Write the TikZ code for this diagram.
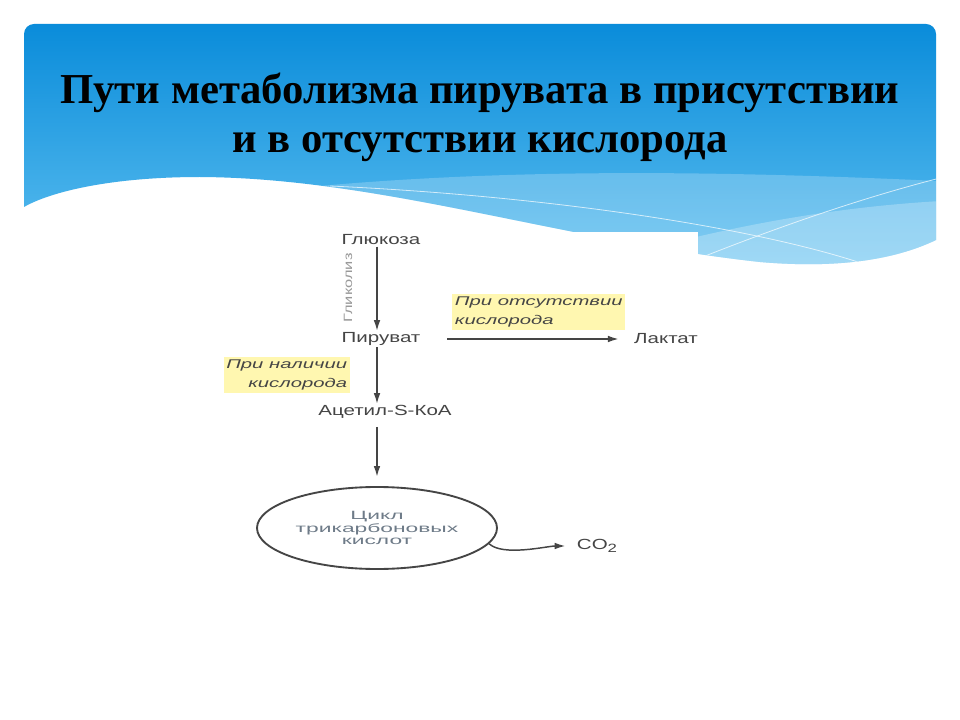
\documentclass[tikz,border=0pt]{standalone}
\usepackage{fontspec}
\setmainfont{Liberation Serif}
\setsansfont{Liberation Sans}
\usepackage{graphicx}
\usetikzlibrary{arrows.meta,shapes.geometric}

\definecolor{hdrdark}{HTML}{0A8CDA}
\definecolor{hdrlight}{HTML}{5DBFF0}
\definecolor{inkgray}{HTML}{454545}
\definecolor{cyclegray}{HTML}{6E7B88}
\definecolor{markyellow}{HTML}{FFF7B0}

\def\wide#1#2{\scalebox{#1}[1]{#2}}
\def\panelpath{(24,207) -- (24,34) arc[start angle=180,end angle=90,radius=7.5pt] -- (926,24) arc[start angle=90,end angle=0,radius=7.5pt] -- (936,240) .. controls (890,262) and (830,268) .. (760,262) .. controls (560,240) and (380,178) .. (200,177) .. controls (110,177) and (50,192) .. (24,207) -- cycle}

\tikzset{
	headline/.style={anchor=base, font=\bfseries\fontsize{32}{38}\selectfont},
	subst/.style={font=\sffamily\fontsize{11}{13}\selectfont, text=inkgray, inner sep=1pt},
	cond/.style={font=\sffamily\itshape\fontsize{9.5}{14}\selectfont, text=inkgray, fill=markyellow, inner sep=2pt},
	react/.style={draw=inkgray, line width=1.1pt, -{Latex[length=8pt,width=5pt]}},
}

\begin{document}
\begin{tikzpicture}[x=0.75pt,y=-0.75pt]
	%%%%% START %%%%%
	\useasboundingbox (0,0) rectangle (960,720);
	\fill[white] (0,0) rectangle (960,720);
	
	\shade[top color=hdrdark, bottom color=hdrlight] \panelpath;
	\begin{scope}
		\clip \panelpath;
		\fill[white, opacity=0.22] (260,192) .. controls (500,165) and (750,172) .. (960,182) -- (960,300) -- (260,300) -- cycle;
		\fill[white, opacity=0.25] (600,262) .. controls (740,222) and (850,205) .. (960,200) -- (960,300) -- cycle;
		\draw[white, opacity=0.7, line width=0.6pt] (330,186) .. controls (550,196) and (760,228) .. (870,266);
		\draw[white, opacity=0.7, line width=0.6pt] (690,262) .. controls (790,222) and (870,196) .. (940,178);
	\end{scope}
	
	\node[headline] (ttl1) at (480,104) {Пути метаболизма пирувата в присутствии};
	\node[headline] (ttl2) at (480,153) {и в отсутствии кислорода};
	
	% figure
	\fill[white] (300,232) rectangle (698,610);
	
	\node[subst] (gluc) at (381,240) {\wide{1.4}{Глюкоза}};
	\node[subst] (pyr) at (381,339) {\wide{1.4}{Пируват}};
	\node[subst] (acoa) at (385,412) {\wide{1.4}{Ацетил-S-КоА}};
	\node[subst] (lact) at (666,339) {\wide{1.4}{Лактат}};
	\node[subst] (co2) at (597,546) {\wide{1.4}{CO\raisebox{-0.45ex}{\fontsize{9}{9}\selectfont 2}}};
	\node[ellipse, draw=inkgray, line width=1.4pt, minimum width=180pt, minimum height=61.5pt, inner sep=0pt, align=center, text=cyclegray, font=\sffamily\fontsize{9}{9.5}\selectfont] (tca) at (377,528) {\wide{1.9}{Цикл}\\\wide{1.9}{трикарбоновых}\\\wide{1.9}{кислот}};
	
	\node[rotate=90, text=gray!80, font=\sffamily\fontsize{9}{10}\selectfont, inner sep=0pt] (glyc) at (348,288) {\wide{1.37}{Гликолиз}};
	\node[cond, anchor=east, align=right] (withox) at (350,375) {\wide{1.6}{При наличии}\\\wide{1.6}{кислорода}};
	\node[cond, anchor=west, align=left] (noox) at (452,312) {\wide{1.6}{При отсутствии}\\\wide{1.6}{кислорода}};
	
	\coordinate (axis) at (377,300);
	\draw[react] (gluc.south -| axis) -- (pyr.north -| axis);
	\draw[react] (pyr.south -| axis) -- (acoa.north -| axis);
	\draw[react, shorten <=5pt, shorten >=7pt] (acoa.south -| axis) -- (tca.north -| axis);
	\draw[react, shorten <=19pt, shorten >=10.5pt] (pyr.east) -- (pyr.east -| lact.west);
	\draw[react, shorten >=7.5pt] (tca.-8) .. controls +(14,13) and +(-28,0) .. (co2.west);
	
	%%%%% END %%%%%
\end{tikzpicture}
\end{document}
